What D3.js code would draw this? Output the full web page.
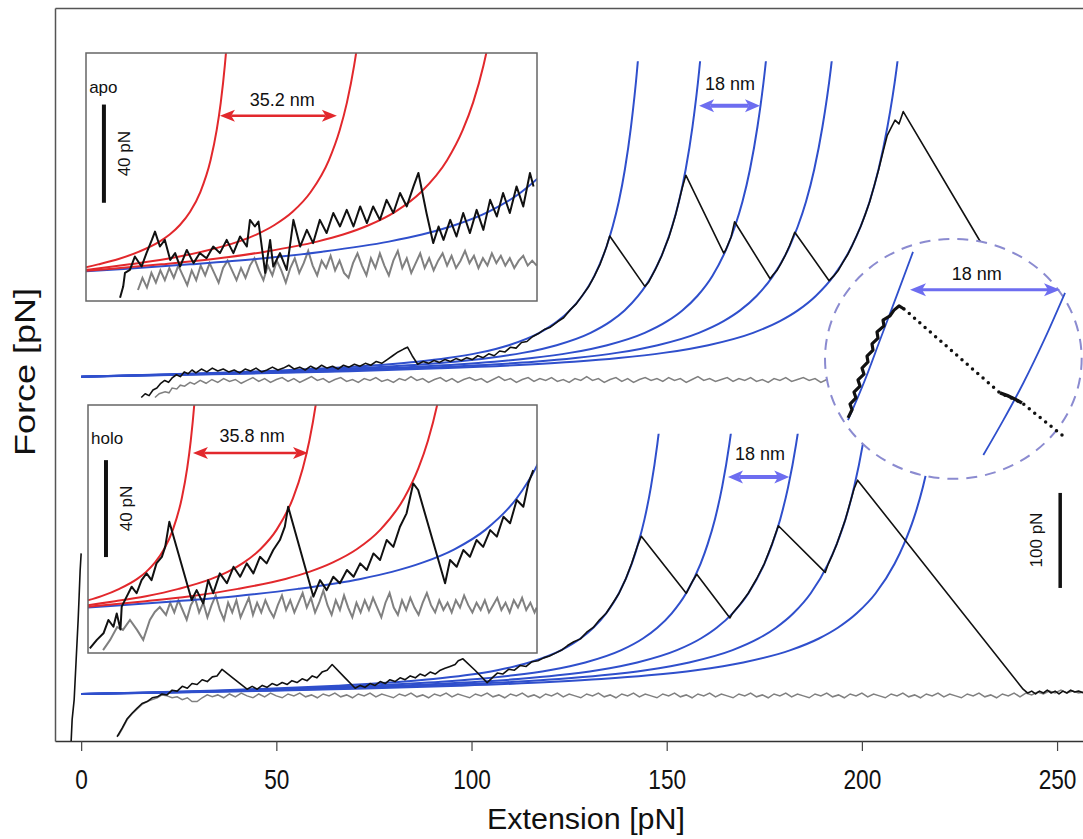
<!DOCTYPE html>
<html>
<head>
<meta charset="utf-8">
<script src="https://cdn.jsdelivr.net/npm/d3@7"></script>
<style>
body { margin: 0; background: #fff; }
svg text { font-family: "Liberation Sans", Arial, sans-serif; fill: #111; }
</style>
</head>
<body>
<svg id="chart" width="1083" height="839"></svg>
<script>
// WLC fit shape: fraction of contour length -> force (pN)
var wlcFrac  = [0, 0.1, 0.2, 0.3, 0.4, 0.5, 0.55, 0.6, 0.65, 0.7, 0.75, 0.78, 0.8, 0.82, 0.84, 0.86, 0.87, 0.88, 0.89, 0.9, 0.91, 0.92, 0.93];
var wlcForce = [0, 1.6, 3.5, 5.7, 8.7, 12.8, 15.7, 19.6, 25, 33.1, 46.1, 58.4, 69.7, 84.9, 106, 137, 158, 184, 218, 263, 323, 407, 530];

// contour lengths of the fits
var apoContours  = [156.5, 174, 192.5, 211, 229.5];
var holoContours = [164, 184.5, 203.5, 222.5, 242.3];
var apoInsetRed  = [45.6, 80.8, 116];
var apoInsetBlue = [148];
var holoInsetRed = [43.1, 78.9, 114.7];
var holoInsetBlue = [151];

var xTicks = [0, 50, 100, 150, 200, 250];
var apoOffset = 334;   // upper trace is lifted by this many pN
var apoTopForce = 332;
var holoTopForce = 274;

// main traces [extension, force]
var apoTrace = [[15.4,-22],[16.4,-18],[17.4,-20],[18.4,-14],[19.4,-12],[20.4,-7],[21.4,-4],[22.4,-6],[23.4,-1],[24.4,2],[25.4,0],[26.4,5],[27.4,3],[28.4,7],[29.4,4],[30.8,8],[32.2,5],[33.6,9],[35,6],[36.4,8],[37.8,5],[39.2,7],[40.6,4],[42,8],[43.4,6],[44.8,9],[46.2,5],[47.6,7],[49,10],[50.4,7],[51.8,9],[53.2,12],[54.6,8],[56,10],[57.4,7],[58.8,11],[60.2,8],[61.6,12],[63,9],[64.4,11],[65.8,8],[67.2,12],[68.6,10],[70,13],[71.4,11],[72.8,14],[74.2,12],[75.6,16],[77,14],[78.4,18],[79.8,22],[81.2,26],[82.6,29],[83.6,31],[84.8,22],[86.2,13],[87.6,16],[89,14],[90.4,17],[91.8,15],[93.2,18],[94.6,16],[96,19],[97.4,17],[98.8,20],[100.2,18],[101.6,22],[103,20],[104.4,24],[105.8,22],[107.2,27],[108.6,26],[110,31],[111.4,30],[112.8,36],[114.2,37],[115.6,42],[117.4,46],[118.8,50],[120.2,52],[122.1,58],[123.6,62],[125.2,70],[126.7,76],[128.3,85],[129.9,94],[131.5,106],[133,119],[134.6,137],[135.4,148],
  [144.4,95],[145.3,99],[146.2,106],[147,112],[147.9,120],[148.7,127],[149.6,137],[150.5,146],[151.4,158],[152.2,169],[153.1,184],[154,199],[154.9,212],
  [164.6,130],[165.1,133],[165.6,138],[166.5,147],[167.4,163],
  [176.5,103],[177.2,107],[178.3,112],[179.4,120],[180.4,128],[181.5,138],[182.8,152],
  [191.6,101],[192.8,106],[194,112],[195.1,120],[196.3,128],[197.4,137],[198.5,147],[199.7,158],[200.8,170],[202,184],[203.1,200],[204.3,218],[205.5,238],[206.5,254],[207.5,262],[208.5,270],[209.5,266],[210.6,279],
  [228.2,157],[250.8,0]];

var apoRetract = [[18.9,-22],[20,-18],[21.5,-16],[22.5,-17],[23.3,-12],[24.5,-13],[25.4,-9],[26.5,-10],[27.9,-6],[29,-8],[30.5,-4],[32,-7],[33.5,-3],[35,-6],[36.5,-2],[38,-5],[39.5,-3],[41,-7],[42.5,-4],[44,-1],[45.5,-5],[47,-2],[48.5,-6],[50,-3],[51.5,-1],[53,-5],[54.5,-2],[56,-6],[57.5,-3],[59,0],[60.5,-4],[62,-2],[63.5,-6],[65,-3],[66.5,-1],[68,-5],[69.5,-3],[71,-6],[72.5,-2],[74,-4],[75.5,-1],[77,-5],[78.5,-3],[80,-6],[81.5,-2],[83,-4],[84.5,0],[86,-4],[87.5,-2],[89,-6],[90.5,-3],[92,-1],[93.5,-5],[95,-2],[96.5,-6],[98,-3],[99.5,-1],[101,-4],[102.5,-2],[104,-6],[105.5,-3],[107,0],[108.5,-4],[110,-2],[111.5,-6],[113,-3],[114.5,-1],[116,-5],[117.5,-2],[119,-4],[120.5,-1],[122,-5],[123.5,-3],[125,-6],[126.5,-2],[128,-4],[129.5,0],[131,-4],[132.5,-2],[134,-6],[135.5,-3],[137,-1],[138.5,-5],[140,-2],[141.5,-6],[143,-3],[144.5,-1],[146,-4],[147.5,-2],[149,-5],[150.5,-1],[152,-4],[153.5,-2],[155,-6],[156.5,-3],[158,0],[159.5,-4],[161,-2],[162.5,-5],[164,-3],[165.5,-1],[167,-5],[168.5,-2],[170,-4],[171.5,-1],[173,-5],[174.5,-3],[176,-6],[177.5,-2],[179,-4],[180.5,-1],[182,-5],[183.5,-3],[185,-1],[186.5,-4],[188,-2],[189.5,-6],[191,-3],[192.5,-1],[194,-4]];

var holoTrace = [[9.2,-45],[10.5,-36],[11.8,-26],[13.1,-20],[14.3,-15],[15.6,-10],[16.9,-8],[18.2,-4],[19.5,-3],[20.7,0],[22,-1],[23.3,4],[24.6,3],[25.9,8],[27.2,6],[28.4,11],[29.7,10],[31,15],[32.3,13],[33.6,18],[34.8,19],[36.1,26],
  [39.4,15],[42.5,5],[43.8,8],[45.1,5],[46.4,9],[47.6,7],[48.9,11],[50.2,9],[51.5,12],[52.8,10],[54,14],[55.3,12],[56.6,16],[57.9,14],[59.2,19],[60.4,17],[61.7,23],[63,25],[64.3,31],
  [67.6,17],[70.2,6],[71.5,9],[72.7,7],[74,11],[75.3,9],[76.6,13],[77.9,11],[79.1,15],[80.4,13],[81.7,17],[83,15],[84.3,19],[85.6,17],[86.8,21],[88.1,19],[89.4,23],[90.7,21],[92,25],[93.2,27],[94.5,29],[95.8,31],[96.6,35],[97.8,37],
  [100.9,25],[104,12],[105.3,17],[106.6,22],[108,21],[109.5,26],[111,25],[112.5,30],[114,29],[115.5,34],[117,35],[118.5,38],[120,40],[121.5,43],[123,46],[124.6,51],[126.2,55],[127.9,58],[129.5,65],[131.2,70],[132.8,78],[134.5,85],[136.1,95],[137.8,106],[139.4,120],[141,137],[142.7,158],[143.5,166],
  [155,106],[155.9,113],[156.8,120],[157.7,126],
  [166.2,80],[166.9,85],[168.9,95],[170.9,106],[173,121],[175,137],[177,158],[178.6,177],
  [190.6,128],[191.4,137],[192.5,147],[193.6,158],[194.7,171],[195.8,184],[196.9,200],[198,216],[198.9,225],
  [241.3,5],[242.5,1],[243.5,3],[244.5,0],[245.5,3],[246.5,1],[247.5,4],[248.5,1],[249.5,3],[250.5,0],[251.5,3],[252.5,1],[253.5,4],[254.5,2],[255.5,3],[256.9,1]];

var holoRetract = [[9.5,-44],[10.5,-37],[11.8,-27],[13,-21],[14.3,-16],[15.6,-11],[16.9,-8],[18.2,-6],[19.5,-4],[20.7,-1],[22,-2],[23.3,-4],[24.6,-3],[25.9,-6],[27.2,-4],[28.4,-8],[29.7,-8],[31,-4],[32.3,-1],[33.6,-3],[35,-1],[36.5,-4],[38,0],[39.5,-3],[41,1],[42.5,-2],[44,-4],[45.5,0],[47,-3],[48.5,1],[50,-2],[51.5,-4],[53,0],[54.5,-2],[56,1],[57.5,-3],[59,-1],[60.5,-4],[62,0],[63.5,-2],[65,1],[66.5,-3],[68,-1],[69.5,-4],[71,0],[72.5,-2],[74,1],[75.5,-3],[77,0],[78.5,-2],[80,-4],[81.5,0],[83,-2],[84.5,1],[86,-3],[87.5,-1],[89,-4],[90.5,0],[92,-2],[93.5,1],[95,-3],[96.5,0],[98,-2],[99.5,-4],[101,0],[102.5,-2],[104,1],[105.5,-3],[107,-1],[108.5,-4],[110,0],[111.5,-2],[113,1],[114.5,-3],[116,-1],[117.5,-4],[119,0],[120.5,-2],[122,1],[123.5,-3],[125,0],[126.5,-2],[128,-4],[129.5,0],[131,-2],[132.5,1],[134,-3],[135.5,-1],[137,-4],[138.5,0],[140,-2],[141.5,1],[143,-3],[144.5,0],[146,-2],[147.5,-4],[149,0],[150.5,-2],[152,1],[153.5,-3],[155,-1],[156.5,-4],[158,0],[159.5,-2],[161,1],[162.5,-3],[164,0],[165.5,-2],[167,-4],[168.5,0],[170,-2],[171.5,1],[173,-3],[174.5,-1],[176,-4],[177.5,0],[179,-2],[180.5,1],[182,-3],[183.5,0],[185,-2],[186.5,-4],[188,0],[189.5,-2],[191,1],[192.5,-3],[194,-1],[195.5,-4],[197,0],[198.5,-2],[200,1],[201.5,-3],[203,0],[204.5,-2],[206,-4],[207.5,0],[209,-2],[210.5,1],[212,-3],[213.5,-1],[215,-4],[216.5,0],[218,-2],[219.5,1],[221,-3],[222.5,0],[224,-2],[225.5,-4],[227,0],[228.5,-2],[230,1],[231.5,-3],[233,-1],[234.5,-4],[236,0],[237.5,-2],[239,1],[240.5,-3],[242,1],[243.5,-1],[245,2],[246.5,0],[248,3],[249.5,1],[251,4],[252.5,1],[254,3],[255.5,1],[256.9,2]];

var contactLine = [[-2.56,-49.5],[-2.31,-27],[-1.79,-6],[-1.28,36],[-0.77,78],[-0.51,104],[-0.26,130],[0,148]];

// inset traces [extension nm, force pN]
var apoInsetTrace = [[14.0,-10.2],[14.7,-5.6],[15.1,0],[16.2,1.2],[17.3,6.7],[18.8,2.6],[19.9,8.1],[21.1,13.5],[21.8,16.9],[22.9,10.8],[24.0,13.5],[25.2,5.3],[26.3,8.1],[27.4,2.6],[28.9,9.4],[30.4,4.0],[31.8,8.1],[33.3,6.0],[34.8,10.8],[36.3,8.1],[37.8,13.5],[39.3,8.1],[40.8,14.9],[42.3,10.8],[43.0,21.7],[44.1,19.0],[44.9,21.0],[46.4,0],[47.5,13.5],[48.2,2.6],[49.7,8.1],[51.2,1.2],[52.7,21.7],[54.2,10.8],[55.7,17.6],[57.1,12.2],[58.6,21.7],[60.1,16.3],[61.6,24.5],[63.1,19.0],[64.6,25.8],[66.1,19.0],[67.6,27.2],[69.1,20.4],[70.5,27.2],[72.0,21.7],[73.5,29.9],[75.0,24.5],[76.5,32.7],[78.0,27.2],[79.5,35.4],[80.6,40.9],[82.4,24.5],[83.9,12.2],[85.1,19.0],[86.2,13.5],[87.7,21.7],[89.1,14.9],[90.6,24.5],[92.1,16.3],[93.6,25.8],[95.1,17.6],[96.6,29.9],[98.1,23.1],[99.5,32.7],[101.0,24.5],[102.5,35.4],[104.0,27.2],[105.5,40.9],[106.3,35.4]];
var apoInsetRetract = [[18,-7],[19,-2],[20,-6],[21,0],[22,-4],[23,1],[24,-3],[25,2],[26,-2],[27,3],[28,-1],[29,-5],[30,1],[31,-3],[32,3],[33,-1],[34,4],[35,0],[36,-4],[37,2],[38,5],[39,1],[40,-3],[41,2],[42,-2],[43,3],[44,6],[45,1],[46,-3],[47,3],[48,-1],[49,5],[50,1],[51,-4],[52,2],[53,6],[54,0],[55,4],[56,9],[57,3],[58,-1],[59,5],[60,2],[61,7],[62,1],[63,5],[64,0],[65,-2],[66,4],[67,8],[68,3],[69,-1],[70,6],[71,2],[72,8],[73,3],[74,-1],[75,5],[76,9],[77,2],[78,6],[79,0],[80,4],[81,8],[82,2],[83,6],[84,1],[85,5],[86,8],[87,3],[88,7],[89,2],[90,5],[91,9],[92,4],[93,7],[94,2],[95,6],[96,3],[97,8],[98,4],[99,7],[100,3],[101,6],[102,2],[103,5],[104,7],[105,3],[106,5],[107,3]];

var holoInsetTrace = [[10.1,-15.8],[11.8,-12.3],[13.4,-9.6],[14.6,-4.1],[15.8,-6.9],[16.6,-1.4],[17.5,-8],[17.8,1.4],[19.0,5.5],[20.2,9.6],[21.4,6.9],[22.6,12.3],[23.8,15.1],[25.0,12.3],[26.2,19.2],[27.5,21.9],[28.3,26.0],[29.3,36.3],[34.7,4.1],[35.9,8.2],[37.5,2.7],[38.7,12.3],[39.9,6.9],[41.5,15.1],[43.2,11.0],[44.8,17.8],[46.4,13.7],[48.0,19.2],[49.6,15.1],[51.2,21.9],[52.8,19.2],[54.4,24.7],[56.0,28.8],[57.2,34.3],[58.0,42.5],[64.1,5.5],[65.7,12.3],[67.3,8.2],[68.9,13.7],[70.5,11.0],[72.2,16.5],[73.8,13.7],[75.4,19.2],[77.0,16.5],[78.6,23.3],[80.2,20.6],[81.8,28.8],[83.4,26.0],[85.0,34.3],[86.6,39.8],[88.2,52.1],[89.4,49.4],[95.9,11.0],[97.1,20.6],[98.7,17.8],[100.3,24.7],[101.9,21.9],[103.5,28.8],[105.1,26.0],[106.8,32.9],[108.4,30.2],[110.0,38.4],[111.6,35.7],[113.2,45.3],[114.8,42.5],[116.0,52.1],[117.2,57.6]];
var holoInsetRetract = [[13.3,-16.5],[15,-12.3],[16.7,-7],[18.1,-8.2],[19.8,-4.1],[21.5,-8.2],[23,-12.3],[24.6,-4.1],[25.8,-0.8],[27,1.2],[28.5,-2],[29.5,3],[30.5,-1],[31.5,4],[32.5,0],[33.5,-4],[34.5,2],[35.5,5],[36.5,-1],[37.5,3],[38.5,-3],[39.5,2],[40.5,6],[41.5,0],[42.5,-4],[43.5,3],[44.5,-1],[45.5,4],[46.5,-3],[47.5,1],[48.5,5],[49.5,-2],[50.5,3],[51.5,-1],[52.5,4],[53.5,0],[54.5,-3],[55.5,2],[56.5,6],[57.5,0],[58.5,4],[59.5,-1],[60.5,3],[61.5,7],[62.5,1],[63.5,5],[64.5,-1],[65.5,3],[66.5,8],[67.5,2],[68.5,-2],[69.5,4],[70.5,0],[71.5,6],[72.5,1],[73.5,-3],[74.5,3],[75.5,-1],[76.5,4],[77.5,0],[78.5,5],[79.5,1],[80.5,-3],[81.5,3],[82.5,7],[83.5,1],[84.5,-2],[85.5,4],[86.5,0],[87.5,5],[88.5,1],[89.5,-2],[90.5,3],[91.5,7],[92.5,2],[93.5,-1],[94.5,4],[95.5,0],[96.5,3],[97.5,-1],[98.5,4],[99.5,1],[100.5,6],[101.5,2],[102.5,-1],[103.5,3],[104.5,0],[105.5,4],[106.5,-1],[107.5,2],[108.5,5],[109.5,0],[110.5,3],[111.5,-1],[112.5,4],[113.5,1],[114.5,5],[115.5,0],[116.5,3],[117.5,-1],[118,1]];

// magnified view (circle): local nm / pN
var zoomFitA = [[2.16,13.0],[4.2,23.5],[6.0,33.9],[8.04,45.7],[9.96,56.9]];
var zoomFitB = [[18.4,3.9],[20.8,13.0],[23.2,22.7],[25.8,34.4],[28.2,46.2]];
var zoomTrace = [[2.16,13.6],[2.64,15.7],[2.40,17.2],[3.12,18.8],[2.88,20.3],[3.60,21.9],[3.36,23.5],[4.08,25.0],[3.84,26.6],[4.56,28.2],[4.44,29.7],[5.16,31.3],[5.04,32.9],[5.76,34.4],[5.64,36.0],[6.48,37.6],[6.36,39.1],[7.20,40.2],[7.68,41.7],[8.28,42.8],[8.88,42.0]];
var zoomDrop = [[8.88,42.0],[20.4,20.1],[23.04,17.5],[27.84,9.1]];
var zoomHold = [[20.4,20.1],[21.3,19.4],[22.1,18.6],[23.04,17.5]];

// ---------------------------------------------------------------
var blue = "#2f4fcc", red = "#e2282c", gray = "#808080", lav = "#6d6df0";
var svg = d3.select("#chart");
var defs = svg.append("defs");

var x = d3.scaleLinear().domain([-6.7, 256.9]).range([55, 1084]);
var y = d3.scaleLinear().domain([-49.5, 722]).range([741, 8]);

var xApo = d3.scaleLinear().domain([6.4, 107.07]).range([86, 537]);
var yApo = d3.scaleLinear().domain([-11.5, 90]).range([301, 53]);
var xHolo = d3.scaleLinear().domain([9.66, 118.1]).range([88, 537]);
var yHolo = d3.scaleLinear().domain([-17.7, 84.4]).range([653, 405]);
var zx = d3.scaleLinear().domain([0, 30]).range([830, 1080]);
var zy = d3.scaleLinear().domain([0, 60]).range([470, 240]);

function fitPts(L) {
  return wlcFrac.map(function(r, i) { return [r * L, wlcForce[i]]; });
}
function lineGen(xs, ys, shift, smooth) {
  var l = d3.line()
    .x(function(d) { return xs(d[0]); })
    .y(function(d) { return ys(d[1] + shift); });
  if (smooth) l.curve(d3.curveMonotoneX);
  return l;
}
function clipRect(id, x0, y0, x1, y1) {
  defs.append("clipPath").attr("id", id).append("rect")
    .attr("x", x0).attr("y", y0).attr("width", x1 - x0).attr("height", y1 - y0);
}
function arrow(g, x1, x2, yy, color, head, hw, sw) {
  var n = head * 0.75;
  g.append("line").attr("x1", x1 + n).attr("x2", x2 - n).attr("y1", yy).attr("y2", yy)
    .attr("stroke", color).attr("stroke-width", sw);
  g.append("path").attr("fill", color)
    .attr("d", "M" + x1 + "," + yy + "L" + (x1 + head) + "," + (yy - hw / 2) + "L" + (x1 + n) + "," + yy + "L" + (x1 + head) + "," + (yy + hw / 2) + "Z");
  g.append("path").attr("fill", color)
    .attr("d", "M" + x2 + "," + yy + "L" + (x2 - head) + "," + (yy - hw / 2) + "L" + (x2 - n) + "," + yy + "L" + (x2 - head) + "," + (yy + hw / 2) + "Z");
}

// clip areas
clipRect("frame", 56, 9, 1084, 741);
clipRect("apoFits", 56, y(apoTopForce + apoOffset), 1084, 741);
clipRect("holoFits", 56, y(holoTopForce), 1084, 741);
clipRect("apoBox", xApo.range()[0], yApo.range()[1], xApo.range()[1], yApo.range()[0]);
clipRect("holoBox", xHolo.range()[0], yHolo.range()[1], xHolo.range()[1], yHolo.range()[0]);

// axes
var xAxis = d3.axisBottom(x).tickValues(xTicks).tickSize(10).tickSizeOuter(0).tickPadding(19);
var gx = svg.append("g").attr("transform", "translate(0,741)").call(xAxis);
gx.select(".domain").attr("stroke", "#333").attr("stroke-width", 1.5);
gx.selectAll(".tick line").attr("stroke", "#444").attr("stroke-width", 1.2);
gx.selectAll(".tick text").attr("font-size", 27).attr("fill", "#111")
  .attr("textLength", function(d) { return String(d).length * 12.6; })
  .attr("lengthAdjust", "spacingAndGlyphs");

var gy = svg.append("g").attr("transform", "translate(55,0)")
  .call(d3.axisLeft(y).tickValues([]).tickSizeOuter(0));
gy.select(".domain").attr("stroke", "#555").attr("stroke-width", 1.5);
var gt = svg.append("g").attr("transform", "translate(0,8)")
  .call(d3.axisTop(x).tickValues([]).tickSizeOuter(0));
gt.select(".domain").attr("stroke", "#555").attr("stroke-width", 1.5);

svg.append("text").attr("x", 586).attr("y", 829).attr("text-anchor", "middle")
  .attr("font-size", 29).attr("textLength", 198).attr("lengthAdjust", "spacingAndGlyphs")
  .text("Extension [pN]");
svg.append("text").attr("transform", "translate(35,372) rotate(-90)").attr("text-anchor", "middle")
  .attr("font-size", 29).attr("textLength", 168).attr("lengthAdjust", "spacingAndGlyphs")
  .text("Force [pN]");

// main fits
var main = svg.append("g").attr("clip-path", "url(#frame)");
main.append("g").attr("clip-path", "url(#apoFits)").selectAll("path")
  .data(apoContours).enter().append("path")
  .attr("d", function(L) { return lineGen(x, y, apoOffset, true)(fitPts(L)); })
  .attr("fill", "none").attr("stroke", blue).attr("stroke-width", 2);
main.append("g").attr("clip-path", "url(#holoFits)").selectAll("path")
  .data(holoContours).enter().append("path")
  .attr("d", function(L) { return lineGen(x, y, 0, true)(fitPts(L)); })
  .attr("fill", "none").attr("stroke", blue).attr("stroke-width", 2);

// main traces
main.append("path").attr("d", lineGen(x, y, apoOffset)(apoRetract))
  .attr("fill", "none").attr("stroke", gray).attr("stroke-width", 1.5);
main.append("path").attr("d", lineGen(x, y, 0)(holoRetract))
  .attr("fill", "none").attr("stroke", gray).attr("stroke-width", 1.5);
main.append("path").attr("d", lineGen(x, y, apoOffset)(apoTrace))
  .attr("fill", "none").attr("stroke", "#111").attr("stroke-width", 1.6).attr("stroke-linejoin", "round");
main.append("path").attr("d", lineGen(x, y, 0)(holoTrace))
  .attr("fill", "none").attr("stroke", "#111").attr("stroke-width", 1.6).attr("stroke-linejoin", "round");
main.append("path").attr("d", lineGen(x, y, 0)(contactLine))
  .attr("fill", "none").attr("stroke", "#111").attr("stroke-width", 1.6);

// 18 nm markers in main plot
arrow(svg, x(158.3), x(173.9), y(285 + apoOffset), lav, 15, 13, 4);
svg.append("text").attr("x", x(166.2)).attr("y", y(302 + apoOffset)).attr("text-anchor", "middle")
  .attr("font-size", 18).text("18 nm");
arrow(svg, x(165.7), x(181.4), y(228.4), lav, 15, 13, 4);
svg.append("text").attr("x", x(173.9)).attr("y", y(246)).attr("text-anchor", "middle")
  .attr("font-size", 18).text("18 nm");

// 100 pN scale bar
svg.append("line").attr("x1", x(250.8)).attr("x2", x(250.8)).attr("y1", y(111.6)).attr("y2", y(211.6))
  .attr("stroke", "#111").attr("stroke-width", 3.5);
svg.append("text").attr("transform", "translate(" + x(246.2) + "," + y(162) + ") rotate(-90)")
  .attr("text-anchor", "middle").attr("font-size", 17).text("100 pN");

// insets
function drawInset(xs, ys, clipId, retract, trace, redL, blueL, opts) {
  var g = svg.append("g");
  g.append("rect").attr("x", xs.range()[0]).attr("y", ys.range()[1])
    .attr("width", xs.range()[1] - xs.range()[0]).attr("height", ys.range()[0] - ys.range()[1])
    .attr("fill", "#fff");
  var c = g.append("g").attr("clip-path", "url(#" + clipId + ")");
  c.append("path").attr("d", lineGen(xs, ys, 0)(retract))
    .attr("fill", "none").attr("stroke", gray).attr("stroke-width", 2);
  c.selectAll(".bl").data(blueL).enter().append("path")
    .attr("d", function(L) { return lineGen(xs, ys, 0, true)(fitPts(L)); })
    .attr("fill", "none").attr("stroke", blue).attr("stroke-width", 2);
  c.selectAll(".rd").data(redL).enter().append("path")
    .attr("d", function(L) { return lineGen(xs, ys, 0, true)(fitPts(L)); })
    .attr("fill", "none").attr("stroke", red).attr("stroke-width", 2);
  c.append("path").attr("d", lineGen(xs, ys, 0)(trace))
    .attr("fill", "none").attr("stroke", "#111").attr("stroke-width", 2).attr("stroke-linejoin", "round");
  g.append("rect").attr("x", xs.range()[0]).attr("y", ys.range()[1])
    .attr("width", xs.range()[1] - xs.range()[0]).attr("height", ys.range()[0] - ys.range()[1])
    .attr("fill", "none").attr("stroke", "#666").attr("stroke-width", 1.5);
  g.append("text").attr("x", xs(opts.label[0])).attr("y", ys(opts.label[1]))
    .attr("font-size", 17).text(opts.name);
  g.append("line").attr("x1", xs(opts.bar[0])).attr("x2", xs(opts.bar[0]))
    .attr("y1", ys(opts.bar[1])).attr("y2", ys(opts.bar[2]))
    .attr("stroke", "#111").attr("stroke-width", 4);
  g.append("text").attr("transform", "translate(" + xs(opts.barText[0]) + "," + ys(opts.barText[1]) + ") rotate(-90)")
    .attr("text-anchor", "middle").attr("font-size", 17).text("40 pN");
  arrow(g, xs(opts.arrow[0]), xs(opts.arrow[1]), ys(opts.arrow[2]), red, 15, 12, 2.5);
  g.append("text").attr("x", xs(opts.gap[0])).attr("y", ys(opts.gap[1]))
    .attr("text-anchor", "middle").attr("font-size", 18).text(opts.gapText);
}

drawInset(xApo, yApo, "apoBox", apoInsetRetract, apoInsetTrace, apoInsetRed, apoInsetBlue, {
  name: "apo", label: [7.1, 73.5], bar: [10.4, 28.7, 68.9], barText: [16.3, 48.8],
  arrow: [36.3, 62.4, 64.3], gap: [50.2, 68.4], gapText: "35.2 nm"
});
drawInset(xHolo, yHolo, "holoBox", holoInsetRetract, holoInsetTrace, holoInsetRed, holoInsetBlue, {
  name: "holo", label: [10.4, 68.2], bar: [14.0, 21.8, 61.7], barText: [20.2, 41.8],
  arrow: [35.0, 62.8, 64.6], gap: [49.3, 69.3], gapText: "35.8 nm"
});

// magnified circle
var zg = svg.append("g");
zg.append("ellipse").attr("cx", zx(14.8)).attr("cy", zy(29))
  .attr("rx", zx(30.2) - zx(14.8)).attr("ry", zy(0) - zy(31.3))
  .attr("fill", "#fff").attr("stroke", "#8b8bd0").attr("stroke-width", 2).attr("stroke-dasharray", "11,8");
[zoomFitA, zoomFitB].forEach(function(d) {
  zg.append("path").attr("d", lineGen(zx, zy, 0, true)(d))
    .attr("fill", "none").attr("stroke", blue).attr("stroke-width", 1.8);
});
zg.append("path").attr("d", lineGen(zx, zy, 0)(zoomDrop))
  .attr("fill", "none").attr("stroke", "#111").attr("stroke-width", 3.5)
  .attr("stroke-linecap", "round").attr("stroke-dasharray", "0,7");
zg.append("path").attr("d", lineGen(zx, zy, 0)(zoomHold))
  .attr("fill", "none").attr("stroke", "#111").attr("stroke-width", 3.5);
zg.append("path").attr("d", lineGen(zx, zy, 0)(zoomTrace))
  .attr("fill", "none").attr("stroke", "#111").attr("stroke-width", 3.2).attr("stroke-linejoin", "round");
arrow(zg, zx(9.6), zx(27.6), zy(47), lav, 16, 13, 3);
zg.append("text").attr("x", zx(17.6)).attr("y", zy(49.5)).attr("text-anchor", "middle")
  .attr("font-size", 18).text("18 nm");
</script>
</body>
</html>
